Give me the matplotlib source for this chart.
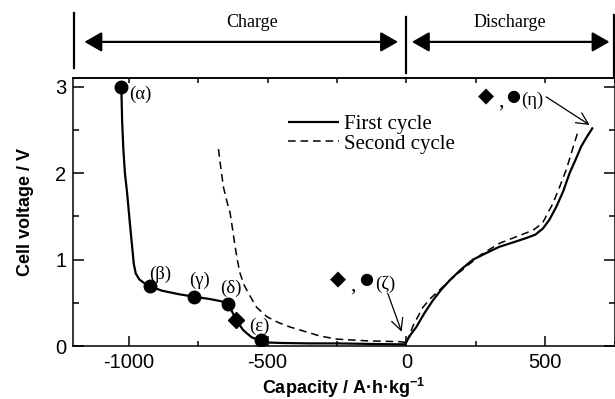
import matplotlib
matplotlib.use("Agg")
import matplotlib.pyplot as plt
from matplotlib.ticker import MultipleLocator

plt.rcParams['axes.unicode_minus'] = False
plt.rcParams['mathtext.default'] = 'regular'

SANS = 'Liberation Sans'
SERIF = 'Liberation Serif'

# First cycle, charge branch (negative capacity)
cap1_chg = [-1027, -1024, -1020, -1014, -1006, -997, -988, -982, -975, -962, -945, -923,
            -880, -820, -764, -710, -670, -643, -628, -614, -600, -588, -572, -557, -540,
            -525, -510, -495, -450, -350, -250, -150, -50, 0]
v1_chg = [3.0, 2.6, 2.3, 2.0, 1.77, 1.45, 1.15, 0.95, 0.84, 0.77, 0.73, 0.69,
          0.64, 0.60, 0.57, 0.545, 0.52, 0.49, 0.40, 0.30, 0.24, 0.185, 0.14, 0.10, 0.08,
          0.07, 0.05, 0.04, 0.035, 0.03, 0.03, 0.025, 0.02, 0.02]

# First cycle, discharge branch
cap1_dis = [0, 15, 36, 65, 96, 125, 156, 195, 240, 290, 336, 385, 432, 465, 492, 515,
            540, 565, 588, 610, 630, 650, 670]
v1_dis = [0.05, 0.13, 0.22, 0.38, 0.53, 0.65, 0.76, 0.88, 1.0, 1.08, 1.15, 1.20, 1.25,
          1.29, 1.36, 1.46, 1.61, 1.79, 2.0, 2.16, 2.31, 2.42, 2.52]

# Second cycle, charge branch
cap2_chg = [-677, -668, -659, -647, -635, -626, -617, -608, -599, -585, -569, -540, -503,
            -460, -419, -383, -311, -251, -143, -23, 0]
v2_chg = [2.28, 2.05, 1.84, 1.68, 1.54, 1.35, 1.15, 0.98, 0.84, 0.71, 0.61, 0.45, 0.34,
          0.27, 0.22, 0.185, 0.115, 0.08, 0.06, 0.05, 0.04]

# Second cycle, discharge branch
cap2_dis = [0, 10, 25, 60, 90, 120, 160, 216, 270, 336, 400, 456, 490, 510, 528, 552,
            576, 598, 618]
v2_dis = [0.04, 0.12, 0.24, 0.45, 0.56, 0.65, 0.77, 0.92, 1.06, 1.19, 1.27, 1.34, 1.42,
          1.54, 1.65, 1.84, 2.04, 2.27, 2.48]

# Sampling points marked on the first charge
pt_cap = [-1027, -923, -764, -643, -525]
pt_v = [3.0, 0.69, 0.57, 0.49, 0.07]
pt_labels = ['(α)', '(β)', '(γ)', '(δ)', '(ε)']
pt_offsets = [(14, -5), (7, 9), (4, 12), (2, 11), (-1, 10)]
dia_cap = [-614]
dia_v = [0.30]

fig = plt.figure(figsize=(6.15, 3.99), dpi=100)
ax = fig.add_axes([73.3 / 615, 53 / 399, (614.5 - 73.3) / 615, 267.7 / 399])

lw = 1.6
ax.plot(cap1_chg, v1_chg, color='black', lw=lw, label='First cycle', solid_capstyle='butt')
ax.plot(cap1_dis, v1_dis, color='black', lw=lw)
ax.plot(cap2_chg, v2_chg, color='black', lw=1.1, ls=(0, (5, 3.2)), label='Second cycle')
ax.plot(cap2_dis, v2_dis, color='black', lw=1.1, ls=(0, (5, 3.2)))

ax.plot(pt_cap, pt_v, 'o', color='black', ms=9, zorder=5)
ax.plot(dia_cap, dia_v, 'D', color='black', ms=8, zorder=5)

for c, v, lab, (dx, dy) in zip(pt_cap, pt_v, pt_labels, pt_offsets):
    ax.annotate(lab, (c, v), xytext=(dx, dy), textcoords='offset points',
                ha='center', va='center', fontsize=13.5, family=SERIF)

ax.set_xlim(-1200, 750)
ax.set_ylim(0, 3.1)
ax.xaxis.set_major_locator(MultipleLocator(500))
ax.xaxis.set_minor_locator(MultipleLocator(250))
ax.yaxis.set_major_locator(MultipleLocator(1))
ax.yaxis.set_minor_locator(MultipleLocator(0.5))

ax.tick_params(axis='x', which='major', direction='in', length=7, width=1.1,
               top=False, pad=5, labelsize=14.5)
ax.tick_params(axis='x', which='minor', direction='in', length=3.5, width=1.1, top=False)
ax.tick_params(axis='y', which='major', direction='in', length=8, width=1.1,
               right=True, pad=5, labelsize=14.5)
ax.tick_params(axis='y', which='minor', direction='in', length=4.5, width=1.1, right=True)
for lbl in ax.get_xticklabels() + ax.get_yticklabels():
    lbl.set_family(SANS)

top = ax.secondary_xaxis('top')
top.set_xticks(list(range(-1000, 751, 250)))
top.tick_params(direction='in', length=3.5, width=1.1, labeltop=False)
top.spines['top'].set_linewidth(1.1)

for s in ax.spines.values():
    s.set_linewidth(1.1)

ax.set_xlabel('Capacity / A·h·kg$^{-1}$', family=SANS, fontweight='bold', fontsize=13,
              labelpad=2.5)
ax.set_ylabel('Cell voltage / V', family=SANS, fontweight='bold', fontsize=13,
              labelpad=15)

leg = ax.legend(loc='upper left', bbox_to_anchor=(0.397, 0.865), frameon=False,
                prop={'family': SERIF, 'size': 15}, handlelength=2.45,
                handletextpad=0.25, labelspacing=0.0, borderpad=0, borderaxespad=0)

# Labels for the (zeta) and (eta) states
def state_label(x_dia, x_comma, x_dot, x_txt, y, txt, arrow_from, arrow_to):
    ax.text(x_dia, y, '◆', family='DejaVu Sans', fontsize=15, ha='center', va='center')
    ax.text(x_comma, y - 0.07, ',', family=SERIF, fontsize=16, ha='center', va='center')
    ax.text(x_dot, y, '●', family='DejaVu Sans', fontsize=11.5, ha='center', va='center')
    ax.text(x_txt, y - 0.05, txt, family=SERIF, fontsize=13.5, ha='center', va='center')
    ax.annotate('', xy=arrow_to, xytext=arrow_from,
                arrowprops=dict(arrowstyle='->,head_length=0.6,head_width=0.3',
                                lw=0.9, color='black', shrinkA=0, shrinkB=0,
                                mutation_scale=14))

state_label(-246, -192, -146, -77, 0.77, '(ζ)', (-67, 0.61), (-17, 0.165))
state_label(288, 342, 383, 455, 2.89, '(η)', (504, 2.885), (660, 2.56))

# Charge / discharge ranges above the plot
tr = ax.get_xaxis_transform()
for xv, y0, y1 in [(-1196, 1.038, 1.244), (0, 1.020, 1.229), (747, 1.0, 1.236)]:
    ax.plot([xv, xv], [y0, y1], color='black', lw=1.6, transform=tr, clip_on=False)

arrow_kw = dict(arrowstyle='<|-|>,head_length=0.7,head_width=0.4', lw=1.6,
                color='black', shrinkA=0, shrinkB=0, mutation_scale=15)
ax.annotate('', xy=(-30, 1.136), xytext=(-1160, 1.136), xycoords=tr, textcoords=tr,
            arrowprops=arrow_kw, annotation_clip=False)
ax.annotate('', xy=(732, 1.136), xytext=(20, 1.136), xycoords=tr, textcoords=tr,
            arrowprops=arrow_kw, annotation_clip=False)
ax.text(-556, 1.207, 'Charge', transform=tr, family=SERIF, fontsize=13,
        ha='center', va='center')
ax.text(372, 1.207, 'Discharge', transform=tr, family=SERIF, fontsize=13,
        ha='center', va='center')

fig.savefig('out.png', dpi=100)
